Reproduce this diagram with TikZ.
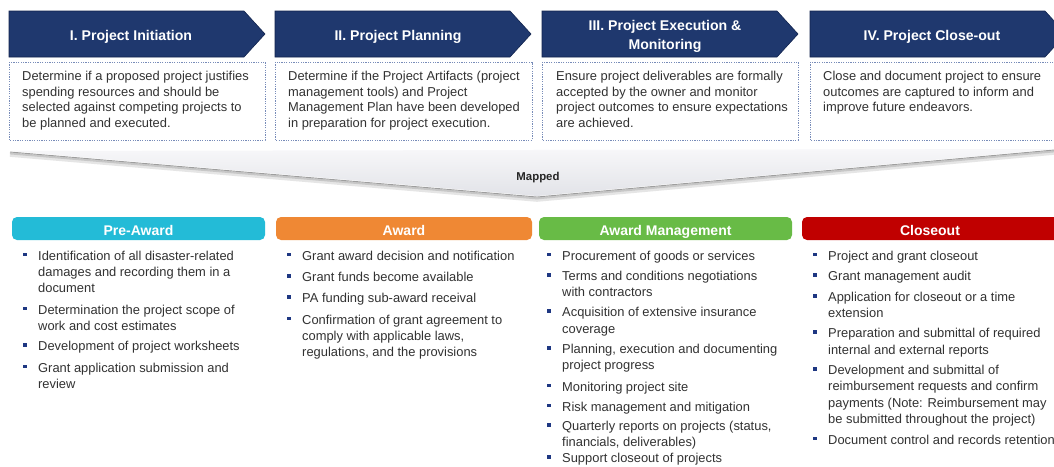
\documentclass[tikz,border=0pt]{standalone}
\usepackage{fontspec}
\setmainfont{Liberation Sans}
\usetikzlibrary{calc}
\definecolor{navy}{RGB}{31,56,110}
\definecolor{navyedge}{RGB}{18,36,78}
\definecolor{boxline}{RGB}{120,140,185}
\definecolor{txtgray}{RGB}{50,50,50}
\definecolor{bulletblue}{RGB}{30,55,130}
\definecolor{cyanhdr}{RGB}{35,187,215}
\definecolor{orangehdr}{RGB}{239,136,52}
\definecolor{greenhdr}{RGB}{104,187,70}
\definecolor{redhdr}{RGB}{192,0,0}
\definecolor{funtop}{RGB}{247,247,249}
\definecolor{funbot}{RGB}{226,227,232}
\newcommand\chevshape[1]{\path[chev] (#1,11) -- ++(235,0) -- ++(21,23) -- ++(-21,23) -- ++(-235,0) -- cycle;}
\newcommand\bitem[4]{%
  \fill[bulletblue] (#2-1.8,#3-7.3) rectangle (#2+1.8,#3-3.7);
  \node[itemtext] (#1) at (#2+13,#3-11.41) {\strut #4};}
\begin{document}
\begin{tikzpicture}[x=1pt,y=-1pt,
  chev/.style={fill=navy, draw=navyedge, line width=0.6pt},
  chevtext/.style={text=white, font=\bfseries\fontsize{14.1}{19.5}\selectfont, align=center, inner sep=0pt},
  descbox/.style={draw=boxline, dash pattern=on 1.2pt off 1.2pt, line width=0.9pt},
  desctext/.style={anchor=north west, inner sep=0pt, align=left, text=txtgray, font=\fontsize{12.9}{15.5}\selectfont},
  hdr/.style={rounded corners=5pt},
  hdrtext/.style={anchor=base, text=white, inner sep=0pt, font=\bfseries\fontsize{14}{16}\selectfont},
  itemtext/.style={anchor=north west, inner sep=0pt, align=left, text=txtgray, font=\fontsize{12.9}{16.3}\selectfont}]
\useasboundingbox (0,0) rectangle (1054,466);
\clip (0,0) rectangle (1054,466);
\fill[white] (0,0) rectangle (1054,466);

% chevrons
\chevshape{9}
\chevshape{275}
\chevshape{542}
\chevshape{810}
\node[chevtext, anchor=base] (c1) at (131,40) {I. Project Initiation};
\node[chevtext, anchor=base] (c2) at (398,40) {II. Project Planning};
\node[chevtext, anchor=north] (c3) at (665,16.35) {\strut III. Project Execution \&\\Monitoring};
\node[chevtext, anchor=base] (c4) at (932,40.5) {IV. Project Close-out};

% description boxes
\draw[descbox] (9,62) rectangle (265,140);
\draw[descbox] (275,62) rectangle (532,140);
\draw[descbox] (542,62) rectangle (798,140);
\draw[descbox] (810,62) rectangle (1066,140);
\node[desctext] (d1) at (22,69.6) {\strut Determine if a proposed project justifies\\spending resources and should be\\selected against competing projects to\\be planned and executed.};
\node[desctext] (d2) at (288,69.6) {\strut Determine if the Project Artifacts (project\\management tools) and Project\\Management Plan have been developed\\in preparation for project execution.};
\node[desctext] (d3) at (556,69.6) {\strut Ensure project deliverables are formally\\accepted by the owner and monitor\\project outcomes to ensure expectations\\are achieved.};
\node[desctext] (d4) at (823,69.6) {\strut Close and document project to ensure\\outcomes are captured to inform and\\improve future endeavors.};

% funnel
\draw[black!10, line width=3.6pt, line join=round] (10,155) -- (537,200) -- (1054,153);
\draw[black!22, line width=2pt, line join=round] (10,153.4) -- (537,198.4) -- (1054,151.4);
\draw[black!38, line width=0.9pt, line join=round] (10,152) -- (537,197) -- (1054,150);
\shade[top color=funtop, bottom color=funbot] (10,151) -- (1054,149) -- (537,196) -- cycle;
\node[anchor=base, inner sep=0pt, text=black!85, font=\bfseries\fontsize{11.4}{13}\selectfont] (mapped) at (538,180.5) {Mapped};

% headers
\fill[hdr, cyanhdr] (12,217) rectangle (265,240);
\fill[hdr, orangehdr] (276,217) rectangle (532,240);
\fill[hdr, greenhdr] (539,217) rectangle (792,240);
\fill[hdr, redhdr] (802,217) rectangle (1070,240);
\node[hdrtext] (h1) at (138.5,235) {Pre-Award};
\node[hdrtext] (h2) at (404,235) {Award};
\node[hdrtext] (h3) at (665.5,235) {Award Management};
\node[hdrtext] (h4) at (930,235) {Closeout};

% Pre-Award items
\bitem{pa1}{25}{260}{Identification of all disaster-related\\damages and recording them in a\\document}
\bitem{pa2}{25}{313.8}{Determination the project scope of\\work and cost estimates}
\bitem{pa3}{25}{350.6}{Development of project worksheets}
\bitem{pa4}{25}{372}{Grant application submission and\\review}

% Award items
\bitem{aw1}{289}{260}{Grant award decision and notification}
\bitem{aw2}{289}{281.4}{Grant funds become available}
\bitem{aw3}{289}{302.6}{PA funding sub-award receival}
\bitem{aw4}{289}{323.8}{Confirmation of grant agreement to\\comply with applicable laws,\\regulations, and the provisions}

% Award Management items
\bitem{am1}{549}{260}{Procurement of goods or services}
\bitem{am2}{549}{280.3}{Terms and conditions negotiations\\with contractors}
\bitem{am3}{549}{316.6}{Acquisition of extensive insurance\\coverage}
\bitem{am4}{549}{353.3}{Planning, execution and documenting\\project progress}
\bitem{am5}{549}{391}{Monitoring project site}
\bitem{am6}{549}{410.8}{Risk management and mitigation}
\bitem{am7}{549}{430.2}{Quarterly reports on projects (status,\\financials, deliverables)}
\bitem{am8}{549}{462.6}{Support closeout of projects}

% Closeout items
\bitem{co1}{815}{260}{Project and grant closeout}
\bitem{co2}{815}{280.5}{Grant management audit}
\bitem{co3}{815}{301.3}{Application for closeout or a time\\extension}
\bitem{co4}{815}{337.7}{Preparation and submittal of required\\internal and external reports}
\bitem{co5}{815}{374.3}{Development and submittal of\\reimbursement requests and confirm\\payments (Note: Reimbursement may\\be submitted throughout the project)}
\bitem{co6}{815}{444}{Document control and records retention}
\end{tikzpicture}
\end{document}
